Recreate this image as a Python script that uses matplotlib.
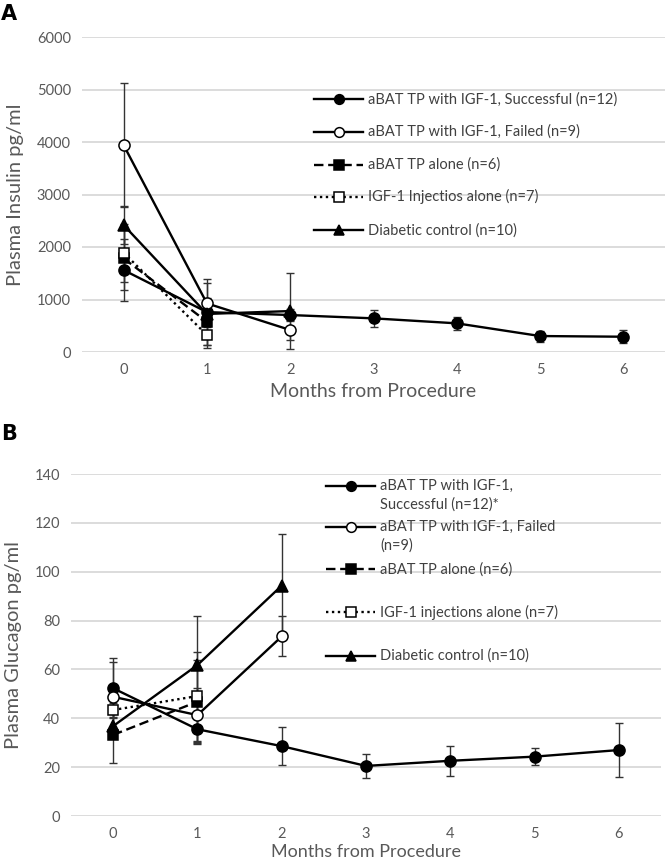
import numpy as np
import matplotlib
matplotlib.use("Agg")
import matplotlib.pyplot as plt

plt.rcParams['font.family'] = ['Lato', 'DejaVu Sans']

# --- data ---
months = [0, 1, 2, 3, 4, 5, 6]
tick_labels = ['0', '1', '2', '3', '4', '5', '6']

# Panel A: plasma insulin (pg/ml), mean and error
ins_success = [1560, 760, 704, 641, 546, 304, 291]
ins_success_err = [585, 200, 120, 165, 127, 105, 125]
ins_failed = [3940, 926, 419]
ins_failed_err = [1185, 457, 191]
ins_abat = [1783, 577]
ins_abat_err = [600, 444]
ins_igf = [1890, 323]
ins_igf_err = [550, 253]
ins_diab = [2417, 725, 780]
ins_diab_err = [360, 587, 717]

# Panel B: plasma glucagon (pg/ml), mean and error
glu_success = [52.3, 35.5, 28.6, 20.5, 22.6, 24.3, 27.0]
glu_success_err = [12.2, 6.0, 7.7, 4.9, 6.1, 3.5, 11.1]
glu_failed = [48.8, 41.3, 73.5]
glu_failed_err = [14.4, 11.0, 8.2]
glu_abat = [33.2, 46.8]
glu_abat_err = [11.4, 17.0]
glu_igf = [43.4, 49.1]
glu_igf_err = [3.0, 18.2]
glu_diab = [36.8, 61.8, 94.3]
glu_diab_err = [5.0, 20.2, 21.3]

labels_a = ['aBAT TP with IGF-1, Successful (n=12)',
            'aBAT TP with IGF-1, Failed (n=9)',
            'aBAT TP alone (n=6)',
            'IGF-1 Injectios alone (n=7)',
            'Diabetic control (n=10)']
labels_b = ['aBAT TP with IGF-1,\nSuccessful (n=12)*',
            'aBAT TP with IGF-1, Failed\n(n=9)',
            'aBAT TP alone (n=6)',
            'IGF-1 injections alone (n=7)',
            'Diabetic control (n=10)']

# line / marker style per group (same order as the legends)
styles = [
    dict(ls='-', marker='o', mfc='black', ms=8),
    dict(ls='-', marker='o', mfc='white', ms=8),
    dict(ls=(0, (4, 2)), marker='s', mfc='black', ms=7.5),
    dict(ls=(0, (1, 1.5)), marker='s', mfc='white', ms=7.5),
    dict(ls='-', marker='^', mfc='black', ms=8),
]

GRID = '#d9d9d9'
TXT = '#595959'


def draw_panel(ax, series, ylim, yticks):
    for (y, err), st in zip(series, styles):
        x = months[:len(y)]
        ax.errorbar(x, y, yerr=err, fmt='none', ecolor='#333333',
                    elinewidth=1, capsize=3.2, capthick=1, zorder=2)
        ax.plot(x, y, color='black', lw=1.7, ls=st['ls'], marker=st['marker'],
                ms=st['ms'], mfc=st['mfc'], mec='black', mew=1.1, zorder=3)
    ax.set_xlim(-0.5, 6.5)
    ax.set_ylim(*ylim)
    ax.set_yticks(yticks)
    ax.set_xticks(months)
    ax.set_xticklabels(tick_labels)
    ax.grid(axis='y', color=GRID, lw=1.3)
    ax.set_axisbelow(True)
    for s in ax.spines.values():
        s.set_visible(False)
    ax.tick_params(length=0, labelsize=10.5, labelcolor=TXT, pad=8)


def draw_legend(ax, labels, x0, x1, xt, rows, line_gap, fs):
    for lab, st, yr in zip(labels, styles, rows):
        ax.plot([x0, x1], [yr, yr], transform=ax.transAxes, clip_on=False,
                color='black', lw=1.7, ls=st['ls'])
        ax.plot([(x0 + x1) / 2], [yr], transform=ax.transAxes, clip_on=False,
                marker=st['marker'], ms=st['ms'] - 1, mfc=st['mfc'],
                mec='black', mew=1.1, ls='none')
        for i, part in enumerate(lab.split('\n')):
            ax.text(xt, yr - i * line_gap, part, transform=ax.transAxes,
                    ha='left', va='center', fontsize=fs, color='#404040')


fig = plt.figure(figsize=(6.66, 8.64), dpi=100)

# Panel A
ax1 = fig.add_axes([82 / 666, 1 - 352 / 864, 583 / 666, 315 / 864])
draw_panel(ax1,
           [(ins_success, ins_success_err), (ins_failed, ins_failed_err),
            (ins_abat, ins_abat_err), (ins_igf, ins_igf_err),
            (ins_diab, ins_diab_err)],
           (0, 6000), np.arange(0, 6001, 1000))
ax1.set_ylabel('Plasma Insulin pg/ml', fontsize=14.5, color=TXT, labelpad=9)
ax1.set_xlabel('Months from Procedure', fontsize=14, color=TXT, labelpad=4)
draw_legend(ax1, labels_a, 0.398, 0.482, 0.491,
            [0.802, 0.699, 0.594, 0.493, 0.387], 0.0, 10.5)

# Panel B
ax2 = fig.add_axes([71 / 666, 1 - 816 / 864, 590 / 666, 342 / 864])
draw_panel(ax2,
           [(glu_success, glu_success_err), (glu_failed, glu_failed_err),
            (glu_abat, glu_abat_err), (glu_igf, glu_igf_err),
            (glu_diab, glu_diab_err)],
           (0, 140), np.arange(0, 141, 20))
ax2.set_ylabel('Plasma Glucagon pg/ml', fontsize=14.5, color=TXT, labelpad=9)
ax2.set_xlabel('Months from Procedure', fontsize=13, color=TXT, labelpad=2)
draw_legend(ax2, labels_b, 0.433, 0.515, 0.524,
            [0.965, 0.845, 0.722, 0.596, 0.468], 0.054, 10.5)

fig.text(0.002, 0.995, 'A', fontsize=15, fontweight='bold', ha='left', va='top',
         family='DejaVu Sans')
fig.text(0.002, 1 - 424 / 864, 'B', fontsize=15, fontweight='bold', ha='left',
         va='top', family='DejaVu Sans')

fig.savefig('out.png', dpi=100)
